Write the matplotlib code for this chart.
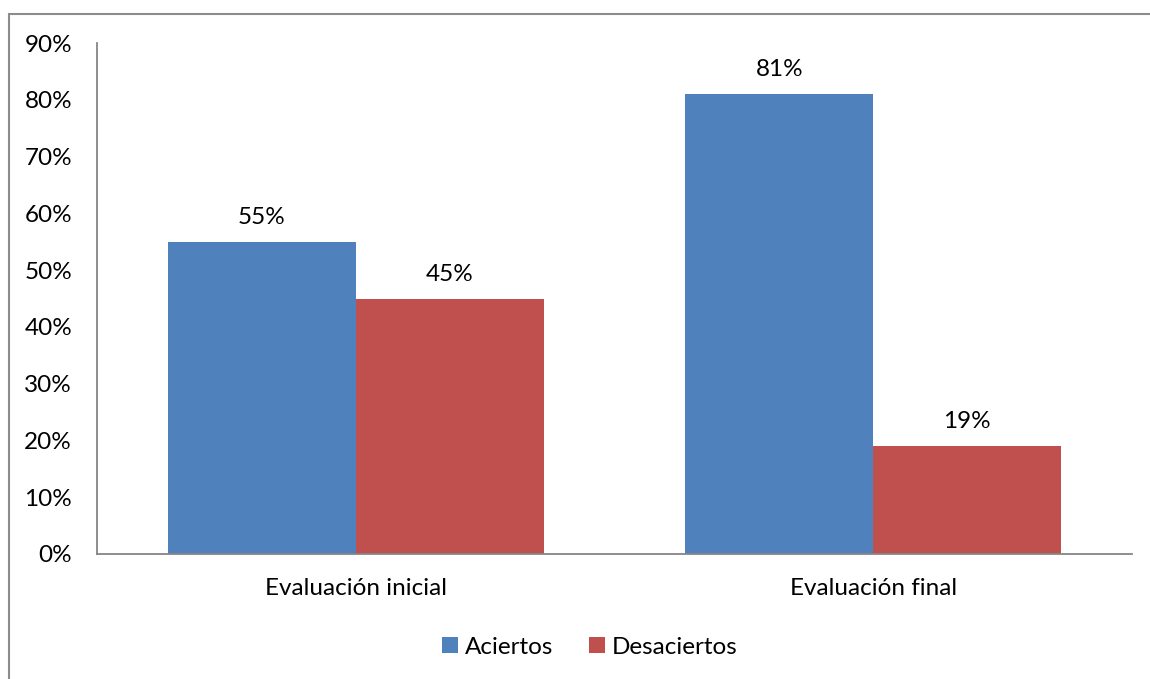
import matplotlib.pyplot as plt
import matplotlib.patches as mpatches
import numpy as np

plt.rcParams['font.family'] = ['Lato', 'DejaVu Sans']

categories = ["Evaluación inicial", "Evaluación final"]
aciertos = [55, 81]
desaciertos = [45, 19]
y_ticks = [0, 10, 20, 30, 40, 50, 60, 70, 80, 90]

blue = '#4F81BD'
red = '#C0504D'
axis_gray = '#868686'
fs = 17.5

fig = plt.figure(figsize=(11.5, 6.79), dpi=100)
ax = fig.add_axes([97/1150, 1 - 554/679, (1132 - 97)/1150, (554 - 43)/679])

# outer chart border
fig.patches.append(mpatches.Rectangle((9/1150, -0.1), 2, 1 - 14/679 + 0.1,
                                      transform=fig.transFigure, fill=False,
                                      edgecolor='#8c8c8c', linewidth=1.5))

x = np.arange(len(categories))
w = 0.3635
b1 = ax.bar(x - w/2, aciertos, w, color=blue, label='Aciertos')
b2 = ax.bar(x + w/2, desaciertos, w, color=red, label='Desaciertos')

for bars, vals in ((b1, aciertos), (b2, desaciertos)):
    for bar, v in zip(bars, vals):
        ax.annotate(f"{v}%", (bar.get_x() + bar.get_width()/2, v),
                    xytext=(0, 10), textcoords='offset points',
                    ha='center', va='bottom', fontsize=fs)

ax.set_xlim(-0.5, 1.5)
ax.set_ylim(0, 90)
ax.set_yticks(y_ticks)
ax.set_yticklabels([f"{t}%" for t in y_ticks])
ax.set_xticks(x)
ax.set_xticklabels(categories)
ax.tick_params(axis='both', length=0, labelsize=fs)
ax.tick_params(axis='y', pad=18)
ax.tick_params(axis='x', pad=17)

for s in ('top', 'right'):
    ax.spines[s].set_visible(False)
for s in ('left', 'bottom'):
    ax.spines[s].set_color(axis_gray)
    ax.spines[s].set_linewidth(1.3)

fig.legend(handles=[b1, b2], loc='center', bbox_to_anchor=(0.513, 1 - 647/679),
           ncol=2, frameon=False, fontsize=fs, handlelength=0.65,
           handleheight=0.65, handletextpad=0.3, columnspacing=1.45)

plt.savefig('out.png', dpi=100)
